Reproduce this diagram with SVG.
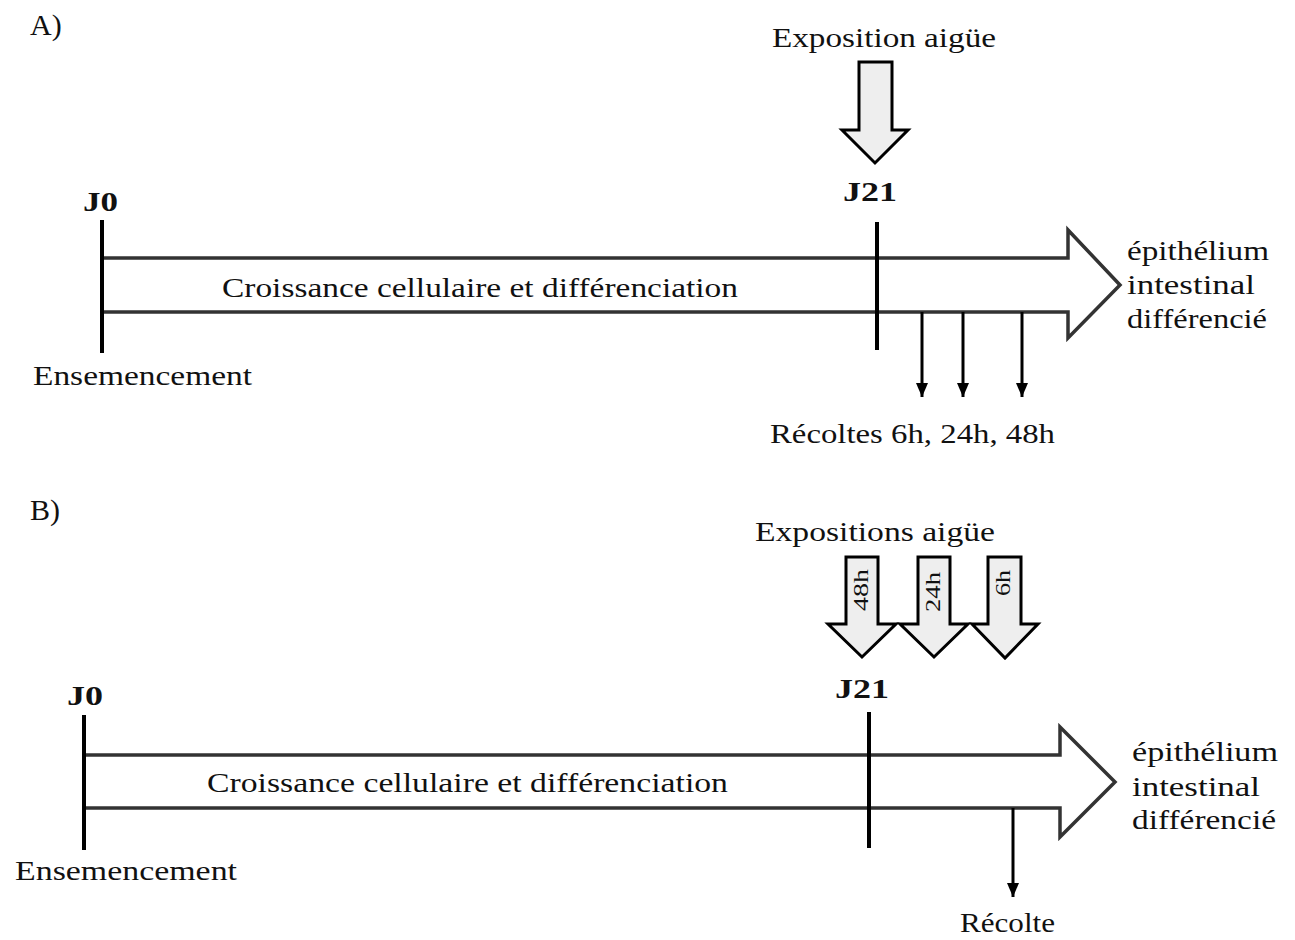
<svg xmlns="http://www.w3.org/2000/svg" width="1295" height="940" viewBox="0 0 1295 940">
<defs>
<style>
text{font-family:"Liberation Serif","Times New Roman",serif;fill:#111;}
.t{font-size:27px;}
.lbl{font-size:30px;}
.b{font-size:28px;font-weight:bold;}
.r{font-size:21px;}
.tl{fill:#fff;stroke:#333;stroke-width:3.5;stroke-linejoin:miter;}
.tick{stroke:#000;stroke-width:4;}
.block{fill:#eeeeee;stroke:#000;stroke-width:3;stroke-linejoin:miter;}
.harv{stroke:#000;stroke-width:3;fill:none;marker-end:url(#ah);}
</style>
<marker id="ah" markerUnits="userSpaceOnUse" markerWidth="14" markerHeight="12" refX="14" refY="6" orient="auto" viewBox="0 0 14 12">
<path d="M0,0 L14,6 L0,12 Z" fill="#000"/>
</marker>
</defs>
<rect width="1295" height="940" fill="#fff"/>

<g id="panelA">
<text class="lbl" x="30" y="35">A)</text>
<g id="A-timeline">
<polygon class="tl" points="102,258 1068,258 1068,230 1120,285 1068,338 1068,312 102,312"/>
<text class="t" x="222" y="297" textLength="516" lengthAdjust="spacingAndGlyphs">Croissance cellulaire et différenciation</text>
</g>
<g id="A-J0">
<line class="tick" x1="102" y1="220" x2="102" y2="353"/>
<text class="b" x="83" y="211" textLength="35" lengthAdjust="spacingAndGlyphs">J0</text>
<text class="t" x="33" y="385" textLength="219" lengthAdjust="spacingAndGlyphs">Ensemencement</text>
</g>
<g id="A-J21">
<line class="tick" x1="877" y1="222" x2="877" y2="350"/>
<text class="b" x="870" y="201" text-anchor="middle" textLength="54" lengthAdjust="spacingAndGlyphs">J21</text>
</g>
<g id="A-exposition">
<text class="t" x="772" y="47" textLength="224" lengthAdjust="spacingAndGlyphs">Exposition aigüe</text>
<polygon class="block" points="859,62 892,62 892,130 908,130 875,163 842,130 859,130"/>
</g>
<g id="A-end">
<text class="t" x="1127" y="260" textLength="142" lengthAdjust="spacingAndGlyphs">épithélium</text>
<text class="t" x="1127" y="294" textLength="128" lengthAdjust="spacingAndGlyphs">intestinal</text>
<text class="t" x="1127" y="328" textLength="140" lengthAdjust="spacingAndGlyphs">différencié</text>
</g>
<g id="A-recoltes">
<text class="t" x="770" y="443" textLength="285" lengthAdjust="spacingAndGlyphs">Récoltes 6h, 24h, 48h</text>
</g>
</g>

<g id="panelB">
<text class="lbl" x="30" y="520">B)</text>
<g id="B-timeline">
<polygon class="tl" points="84,755 1060,755 1060,727 1115,782 1060,837 1060,808 84,808"/>
<text class="t" x="207" y="792" textLength="521" lengthAdjust="spacingAndGlyphs">Croissance cellulaire et différenciation</text>
</g>
<g id="B-J0">
<line class="tick" x1="84" y1="715" x2="84" y2="850"/>
<text class="b" x="67" y="705" textLength="36" lengthAdjust="spacingAndGlyphs">J0</text>
<text class="t" x="15" y="880" textLength="222" lengthAdjust="spacingAndGlyphs">Ensemencement</text>
</g>
<g id="B-J21">
<line class="tick" x1="869" y1="712" x2="869" y2="848"/>
<text class="b" x="862" y="698" text-anchor="middle" textLength="54" lengthAdjust="spacingAndGlyphs">J21</text>
</g>
<g id="B-expositions">
<text class="t" x="755" y="541" textLength="240" lengthAdjust="spacingAndGlyphs">Expositions aigüe</text>
<g id="B-exp48">
<polygon class="block" points="846,557 878,557 878,624 896,624 862,657 828,624 846,624"/>
<text class="r" transform="translate(868,590) rotate(-90)" text-anchor="middle" textLength="42" lengthAdjust="spacingAndGlyphs">48h</text>
</g>
<g id="B-exp24">
<polygon class="block" points="918,557 950,557 950,624 968,624 934,657 900,624 918,624"/>
<text class="r" transform="translate(940,592) rotate(-90)" text-anchor="middle" textLength="40" lengthAdjust="spacingAndGlyphs">24h</text>
</g>
<g id="B-exp6">
<polygon class="block" points="988,557 1021,557 1021,624 1038,624 1005,658 972,624 988,624"/>
<text class="r" transform="translate(1010,583) rotate(-90)" text-anchor="middle" textLength="26" lengthAdjust="spacingAndGlyphs">6h</text>
</g>
</g>
<g id="B-end">
<text class="t" x="1132" y="761" textLength="146" lengthAdjust="spacingAndGlyphs">épithélium</text>
<text class="t" x="1132" y="796" textLength="128" lengthAdjust="spacingAndGlyphs">intestinal</text>
<text class="t" x="1132" y="829" textLength="144" lengthAdjust="spacingAndGlyphs">différencié</text>
</g>
<g id="B-recolte">
<text class="t" x="960" y="932" textLength="95" lengthAdjust="spacingAndGlyphs">Récolte</text>
</g>
</g>

<g id="connectors">
<line class="harv" x1="922" y1="312" x2="922" y2="397"/>
<line class="harv" x1="963" y1="312" x2="963" y2="397"/>
<line class="harv" x1="1022" y1="312" x2="1022" y2="397"/>
<line class="harv" x1="1013" y1="808" x2="1013" y2="897"/>
</g>
</svg>
